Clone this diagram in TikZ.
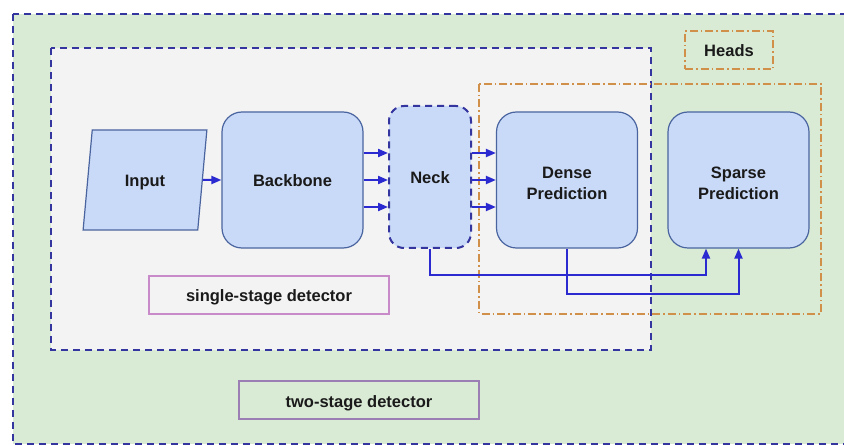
\documentclass[tikz,border=0pt]{standalone}
\usepackage{fontspec}
\setmainfont{Liberation Sans}
\usetikzlibrary{arrows.meta,shapes.geometric,calc}

\definecolor{bggreen}{HTML}{D9EBD5}
\definecolor{bggray}{HTML}{F3F3F3}
\definecolor{boxfill}{HTML}{C9DAF8}
\definecolor{boxline}{HTML}{4A64A0}
\definecolor{frameblue}{HTML}{3535A0}
\definecolor{flowblue}{HTML}{2A2AD0}
\definecolor{headorange}{HTML}{D0904A}
\definecolor{singlepink}{HTML}{C88AC8}
\definecolor{twopurple}{HTML}{9A7EB4}
\definecolor{textdark}{HTML}{1A1A1A}

\tikzset{every picture/.style={line width=0.75pt}}
\tikzset{
  lbl/.style={font=\bfseries\fontsize{16.5}{21}\selectfont, text=textdark, align=center, inner sep=0pt,
    text height=14pt, text depth=0pt},
  twoline/.style={text height=39.6pt, text depth=0pt},
  block/.style={lbl, draw=boxline, line width=1.2pt, fill=boxfill, rounded corners=20pt,
    minimum width=141pt, minimum height=136pt},
  frame/.style={draw=frameblue, line width=2pt, dash pattern=on 7pt off 5pt},
  headline/.style={draw=headorange, line width=1.4pt, dash pattern=on 8pt off 3pt on 1.5pt off 3pt},
  tagbox/.style={lbl, line width=1.2pt, minimum width=240pt, minimum height=38pt},
  flow/.style={draw=flowblue, line width=2pt, -{Triangle[length=10pt,width=8pt]}},
}

\begin{document}
\begin{tikzpicture}[x=1pt,y=1pt,yscale=-1,xscale=1]
\clip (0,0) rectangle (844,446);

% two-stage detector area
\draw [frame, fill=bggreen] (13,14) rectangle (852,444);
% single-stage detector area
\draw [frame, fill=bggray] (51,48) rectangle (651,350);
% heads area
\draw [headline] (479,84) rectangle (821,314);

% blocks
\node [lbl, trapezium, trapezium left angle=76, trapezium right angle=104, trapezium stretches=true,
  draw=boxline, line width=1.2pt, fill=boxfill, minimum width=124pt, minimum height=100pt] (input) at (145,180) {Input};
\node [block] (backbone) at (292.5,180) {Backbone};
\node [block, draw=frameblue, line width=2pt, dash pattern=on 7pt off 5pt, rounded corners=15pt,
  minimum width=82pt, minimum height=142pt] (neck) at (430,177) {Neck};
\node [block, twoline] (dense) at (567,180) {Dense\\Prediction};
\node [block, twoline] (sparse) at (738.5,180) {Sparse\\Prediction};

% labels
\node [tagbox, draw=singlepink] (single) at (269,295) {single-stage detector};
\node [tagbox, draw=twopurple] (two) at (359,400) {two-stage detector};
\node [lbl, headline, minimum width=88pt, minimum height=38pt] (heads) at (729,50) {Heads};

% connectors
\draw [flow] (input.east) -- (backbone.west);
\foreach \dy in {-27,0,27} {
  \draw [flow] ($(backbone.east)+(0,\dy)$) -- ($(neck.west)+(0,\dy+3)$);
  \draw [flow] ($(neck.east)+(0,\dy+3)$) -- ($(dense.west)+(0,\dy)$);
}
\draw [flow] (neck.south) -- ++(0,26) -| ($(sparse.south)+(-32.5,0)$);
\draw [flow] (dense.south) -- ++(0,45) -| (sparse.south);
\end{tikzpicture}
\end{document}
